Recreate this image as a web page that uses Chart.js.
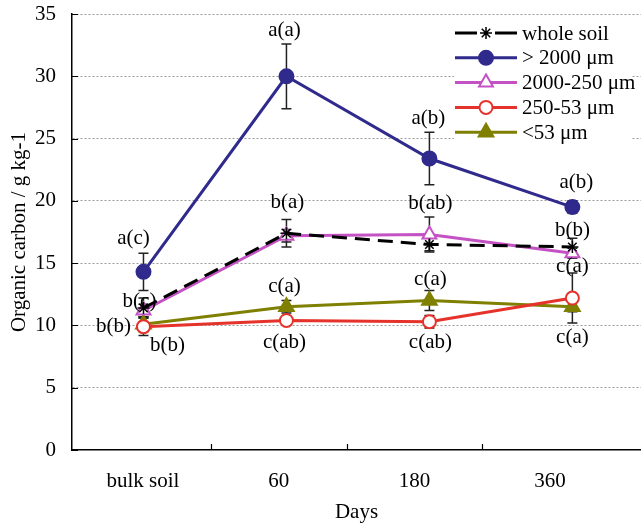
<!DOCTYPE html>
<html>
<head>
<meta charset="utf-8">
<script src="https://cdn.jsdelivr.net/npm/chart.js@4.4.1/dist/chart.umd.min.js"></script>
<style>
  html, body { margin: 0; padding: 0; background: #fff; }
  #wrap { width: 641px; height: 523px; }
</style>
</head>
<body>
<div id="wrap"><canvas id="chart" width="641" height="523"></canvas></div>
<script>
// categories (x axis)
const categories = ['bulk soil', '60', '180', '360'];
const yTicks = [0, 5, 10, 15, 20, 25, 30, 35];

// organic carbon, g kg-1
const wholeSoil = [11.4, 17.4, 16.5, 16.3];
const over2000 = [14.3, 30.0, 23.4, 19.5];
const frac2000to250 = [11.2, 17.2, 17.3, 15.8];
const frac250to53 = [9.9, 10.4, 10.3, 12.2];
const under53 = [10.1, 11.5, 12.0, 11.5];

// error bar half-lengths
const wholeSoilErr = [0.8, 1.1, 0.5, 0.7];
const over2000Err = [1.5, 2.6, 2.1, 0.5];
const frac2000to250Err = [0.5, 0.5, 1.4, 0.4];
const frac250to53Err = [0.7, 0.2, 0.5, 2.0];
const under53Err = [0.6, 0.5, 0.8, 0.4];

// significance letters: [text, category index, y value]
const letterLabels = [
  ['a(c)', 0, 17.0], ['b(c)', 0, 11.9], ['b(b)', 0, 9.9], ['b(b)', 0, 8.35],
  ['a(a)', 1, 33.7], ['b(a)', 1, 19.9], ['c(a)', 1, 13.15], ['c(ab)', 1, 8.67],
  ['a(b)', 2, 26.65], ['b(ab)', 2, 19.8], ['c(a)', 2, 13.65], ['c(ab)', 2, 8.6],
  ['a(b)', 3, 21.45], ['b(b)', 3, 17.65], ['c(a)', 3, 14.7], ['c(a)', 3, 9.0]
];
// small horizontal nudges (px) for the crowded letters
const letterShift = [-10, -4, -30, 24, -2, 1, -2, -2, -1, 1, 1, 1, 4, 0, 0, 0];

const FONT = "'Liberation Serif', 'Times New Roman', serif";
const font21 = { family: FONT, size: 21 };

function pts(vals) {
  return vals.map((v, i) => ({ x: i, y: v }));
}

const series = [
  { label: 'whole soil', data: wholeSoil, err: wholeSoilErr, color: '#000000', style: 'star', fill: '#000000', r: 6, dash: [15, 8] },
  { label: '> 2000 \u03bcm', data: over2000, err: over2000Err, color: '#2f2a8c', style: 'circle', fill: '#2f2a8c', r: 7, dash: [] },
  { label: '2000-250 \u03bcm', data: frac2000to250, err: frac2000to250Err, color: '#c452c4', style: 'triangle', fill: '#ffffff', r: 8, dash: [] },
  { label: '250-53 \u03bcm', data: frac250to53, err: frac250to53Err, color: '#e5322a', style: 'circle', fill: '#ffffff', r: 6.5, dash: [] },
  { label: '<53 \u03bcm', data: under53, err: under53Err, color: '#7f7f00', style: 'triangle', fill: '#7f7f00', r: 8.5, dash: [] }
];

// error bars, drawn under the lines
const errorBars = {
  id: 'errorBars',
  beforeDatasetsDraw(chart) {
    const { ctx, scales: { x, y } } = chart;
    ctx.save();
    ctx.strokeStyle = '#222';
    ctx.lineWidth = 1.5;
    series.forEach(s => {
      s.data.forEach((v, i) => {
        const px = x.getPixelForValue(i);
        const top = y.getPixelForValue(v + s.err[i]);
        const bot = y.getPixelForValue(v - s.err[i]);
        ctx.beginPath();
        ctx.moveTo(px, top); ctx.lineTo(px, bot);
        ctx.moveTo(px - 5, top); ctx.lineTo(px + 5, top);
        ctx.moveTo(px - 5, bot); ctx.lineTo(px + 5, bot);
        ctx.stroke();
      });
    });
    ctx.restore();
  }
};

// inward tick marks on both axes
const innerTicks = {
  id: 'innerTicks',
  afterDraw(chart) {
    const { ctx, chartArea, scales: { y, xl } } = chart;
    ctx.save();
    ctx.strokeStyle = '#000';
    ctx.lineWidth = 1.2;
    ctx.beginPath();
    yTicks.forEach(v => {
      const py = Math.round(y.getPixelForValue(v)) + 0.5;
      ctx.moveTo(chartArea.left, py); ctx.lineTo(chartArea.left + 6, py);
    });
    [0.5, 1.5, 2.5].forEach(v => {
      const px = Math.round(xl.getPixelForValue(v)) + 0.5;
      ctx.moveTo(px, chartArea.bottom); ctx.lineTo(px, chartArea.bottom - 6);
    });
    ctx.stroke();
    ctx.restore();
  }
};

// letters + legend on top
const overlay = {
  id: 'overlay',
  afterDatasetsDraw(chart) {
    const { ctx, scales: { x, y } } = chart;
    ctx.save();
    ctx.font = '21px ' + FONT;
    ctx.fillStyle = '#000';
    ctx.textAlign = 'center';
    ctx.textBaseline = 'middle';
    letterLabels.forEach((l, k) => {
      ctx.fillText(l[0], x.getPixelForValue(l[1]) + letterShift[k], y.getPixelForValue(l[2]));
    });

    // legend box
    ctx.fillStyle = '#fff';
    ctx.fillRect(454, 19, 178, 126);
    const x0 = 455, x1 = 517, tx = 522;
    series.forEach((s, i) => {
      const ly = 33 + i * 24.8;
      ctx.strokeStyle = s.color;
      ctx.lineWidth = 3;
      ctx.setLineDash([]);
      ctx.beginPath();
      if (s.dash.length) {
        ctx.moveTo(x0, ly); ctx.lineTo(x0 + 22, ly);
        ctx.moveTo(x1 - 22, ly); ctx.lineTo(x1, ly);
      } else {
        ctx.moveTo(x0, ly); ctx.lineTo(x1, ly);
      }
      ctx.stroke();
      ctx.fillStyle = s.fill;
      ctx.strokeStyle = s.color;
      ctx.lineWidth = s.style === 'star' ? 1.5 : 2;
      Chart.helpers.drawPoint(ctx, { pointStyle: s.style, radius: s.r, rotation: 0, borderWidth: ctx.lineWidth }, (x0 + x1) / 2, ly);
      ctx.fillStyle = '#000';
      ctx.textAlign = 'left';
      ctx.fillText(s.label, tx, ly + 1);
    });
    ctx.restore();
  }
};

new Chart(document.getElementById('chart'), {
  type: 'line',
  data: {
    datasets: series.map(s => ({
      label: s.label,
      data: pts(s.data),
      borderColor: s.color,
      borderWidth: 3,
      borderDash: s.dash,
      pointStyle: s.style,
      pointRadius: s.r,
      pointBackgroundColor: s.fill,
      pointBorderColor: s.color,
      pointBorderWidth: s.style === 'star' ? 1.5 : 2,
      tension: 0,
      fill: false
    }))
  },
  options: {
    responsive: false,
    animation: false,
    layout: { autoPadding: false, padding: { top: 14, right: 0, left: 0, bottom: 0 } },
    plugins: { legend: { display: false }, tooltip: { enabled: false } },
    scales: {
      x: { type: 'linear', min: -0.5, max: 3.48, display: false },
      xl: {
        type: 'linear', position: 'bottom', min: -0.523, max: 3.67,
        afterBuildTicks: s => { s.ticks = [0, 1, 2, 3].map(v => ({ value: v })); },
        ticks: {
          callback: v => categories[v],
          font: font21, color: '#000', padding: 19, maxRotation: 0, autoSkip: false
        },
        grid: { display: false, drawTicks: false },
        border: { display: true, color: '#000', width: 1.5 },
        title: { display: true, text: 'Days', font: font21, color: '#000', padding: { top: 0, bottom: -2 } },
        afterFit: s => { s.height = 73; s.paddingLeft = 0; s.paddingRight = 0; }
      },
      y: {
        min: 0, max: 35,
        afterBuildTicks: s => { s.ticks = yTicks.map(v => ({ value: v })); },
        ticks: { font: font21, color: '#000', padding: 16 },
        grid: {
          color: c => c.tick && c.tick.value === 0 ? 'rgba(0,0,0,0)' : '#9a9a9a',
          lineWidth: 1, drawTicks: false
        },
        border: { display: true, color: '#000', width: 1.5, dash: [2, 2] },
        title: { display: true, text: 'Organic carbon / g kg-1', font: font21, color: '#000', padding: { top: 7, bottom: 0 } },
        afterFit: s => { s.width = 72; s.paddingTop = 0; s.paddingBottom = 0; }
      }
    }
  },
  plugins: [errorBars, innerTicks, overlay]
});
</script>
</body>
</html>
